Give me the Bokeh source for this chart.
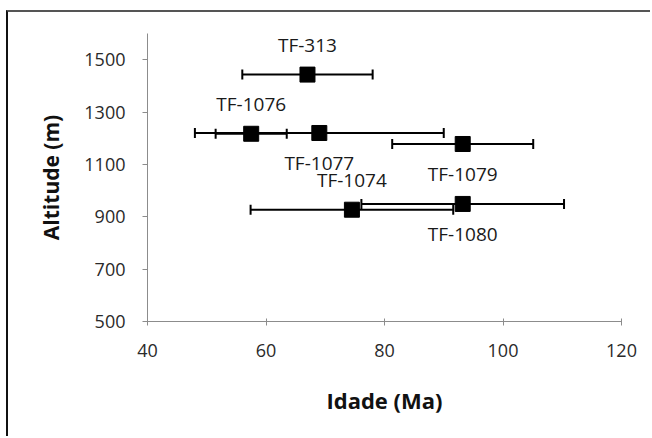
from bokeh.plotting import figure
from bokeh.models import ColumnDataSource, Whisker, TeeHead, LabelSet, Range1d, FixedTicker
from bokeh.core.properties import value
from bokeh.embed import file_html
from bokeh.resources import INLINE

# Sample ages (Ma) with 1-sigma errors and sampling altitude (m)
samples = ["TF-313", "TF-1076", "TF-1077", "TF-1074", "TF-1079", "TF-1080"]
age_ma = [67.0, 57.5, 69.0, 74.5, 93.2, 93.2]
age_err = [11.0, 6.0, 21.0, 17.1, 11.9, 17.1]
altitude_m = [1443, 1217, 1220, 927, 1178, 949]
label_side = ["above", "above", "below", "above", "below", "below"]

x_ticks = [40, 60, 80, 100, 120]
y_ticks = [500, 700, 900, 1100, 1300, 1500]

FONT = "Open Sans"
LABEL_GAP = 30

src = ColumnDataSource(dict(
    x=age_ma,
    y=altitude_m,
    lower=[a - e for a, e in zip(age_ma, age_err)],
    upper=[a + e for a, e in zip(age_ma, age_err)],
    name=samples,
    dy=[LABEL_GAP if s == "above" else -LABEL_GAP for s in label_side],
))

p = figure(
    width=644, height=426,
    x_range=Range1d(40, 120), y_range=Range1d(500, 1600),
    output_backend="svg", toolbar_location=None,
    min_border_left=139, min_border_right=31,
    min_border_top=21, min_border_bottom=117,
    margin=(10, 0, 0, 6),
    styles={"border-top": "2px solid #555555", "border-left": "2px solid #111111"},
)
p.outline_line_color = None
p.xgrid.visible = False
p.ygrid.visible = False
p.background_fill_color = "white"
p.border_fill_color = "white"

# horizontal error bars
tee = dict(size=10, line_color="black", line_width=2)
p.add_layout(Whisker(
    source=src, base="y", lower="lower", upper="upper", dimension="width",
    line_color="black", line_width=2,
    lower_head=TeeHead(**tee), upper_head=TeeHead(**tee),
    level="underlay",
))

p.scatter("x", "y", source=src, marker="square", size=15,
          fill_color="black", line_color="black")

p.add_layout(LabelSet(
    source=src, x="x", y="y", text="name", y_offset="dy",
    text_align="center", text_baseline="middle",
    text_font=value(FONT), text_font_size="19px", text_color="#1a1a1a",
))

p.xaxis.ticker = FixedTicker(ticks=x_ticks)
p.yaxis.ticker = FixedTicker(ticks=y_ticks)
p.xaxis.minor_tick_line_color = None
p.yaxis.minor_tick_line_color = None
for ax in (p.xaxis, p.yaxis):
    ax.axis_line_color = "#8c8c8c"
    ax.major_tick_line_color = "#8c8c8c"
    ax.major_label_text_font = FONT
    ax.major_label_text_font_size = "18px"
    ax.major_label_text_color = "#2a2a2a"
    ax.axis_label_text_font = FONT
    ax.axis_label_text_font_style = "bold"
    ax.axis_label_text_color = "#111111"

p.xaxis.major_tick_in = 3
p.xaxis.major_tick_out = 4
p.yaxis.major_tick_in = 0
p.yaxis.major_tick_out = 5
p.xaxis.major_label_standoff = 18
p.yaxis.major_label_standoff = 17

p.xaxis.axis_label = "Idade (Ma)"
p.yaxis.axis_label = "Altitude (m)"
p.xaxis.axis_label_text_font_size = "22px"
p.yaxis.axis_label_text_font_size = "21px"
p.xaxis.axis_label_standoff = 25
p.yaxis.axis_label_standoff = 16

open("out.html", "w").write(file_html(p, INLINE))
